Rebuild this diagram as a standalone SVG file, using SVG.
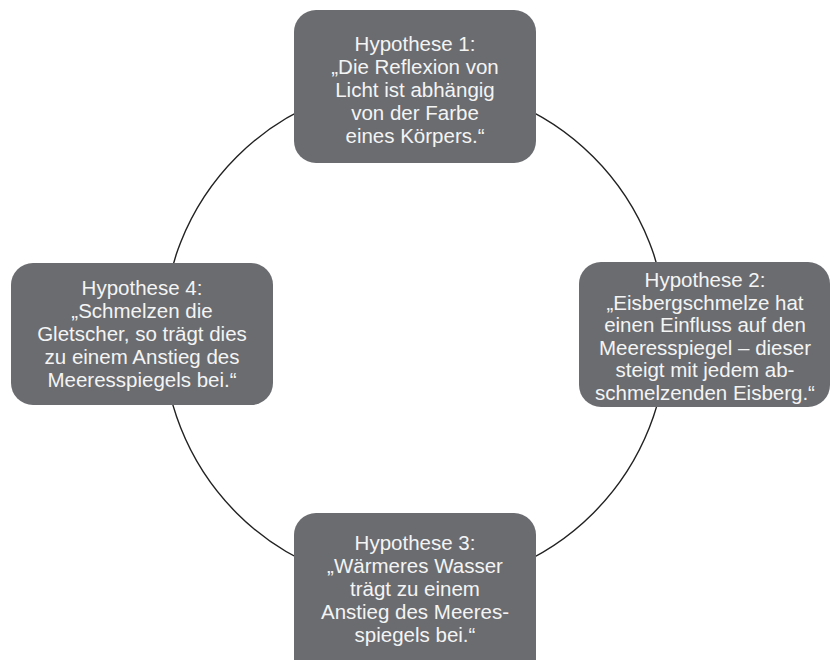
<svg xmlns="http://www.w3.org/2000/svg" width="831" height="660" viewBox="0 0 831 660">
<style>
.box{fill:#6b6c70}
.t{font-family:"Liberation Sans",Arial,sans-serif;font-size:20.5px;fill:#f4f4f4;text-anchor:middle}
.c{fill:none;stroke:#222;stroke-width:1.4}
</style>
<rect width="831" height="660" fill="#fff"/>
<g id="connectors">
<circle class="c" cx="415" cy="335" r="252"/>
</g>
<g id="h1">
<rect class="box" x="294" y="10" width="242" height="153" rx="22"/>
<text class="t" x="415" y="51">Hypothese 1:</text>
<text class="t" x="415" y="74">„Die Reflexion von</text>
<text class="t" x="415" y="97">Licht ist abhängig</text>
<text class="t" x="415" y="120">von der Farbe</text>
<text class="t" x="415" y="143">eines Körpers.“</text>
</g>
<g id="h2">
<rect class="box" x="579" y="262" width="251" height="145" rx="22"/>
<text class="t" x="705" y="287">Hypothese 2:</text>
<text class="t" x="705" y="309.5">„Eisbergschmelze hat</text>
<text class="t" x="705" y="332">einen Einfluss auf den</text>
<text class="t" x="705" y="354.5">Meeresspiegel – dieser</text>
<text class="t" x="705" y="377">steigt mit jedem ab-</text>
<text class="t" x="705" y="399.5">schmelzenden Eisberg.“</text>
</g>
<g id="h3">
<rect class="box" x="294" y="513" width="242" height="170" rx="22"/>
<text class="t" x="415" y="550">Hypothese 3:</text>
<text class="t" x="415" y="573">„Wärmeres Wasser</text>
<text class="t" x="415" y="596">trägt zu einem</text>
<text class="t" x="415" y="619">Anstieg des Meeres-</text>
<text class="t" x="415" y="642">spiegels bei.“</text>
</g>
<g id="h4">
<rect class="box" x="11" y="263" width="262" height="142" rx="22"/>
<text class="t" x="142" y="295">Hypothese 4:</text>
<text class="t" x="142" y="318">„Schmelzen die</text>
<text class="t" x="142" y="341">Gletscher, so trägt dies</text>
<text class="t" x="142" y="364">zu einem Anstieg des</text>
<text class="t" x="142" y="387">Meeresspiegels bei.“</text>
</g>
</svg>
